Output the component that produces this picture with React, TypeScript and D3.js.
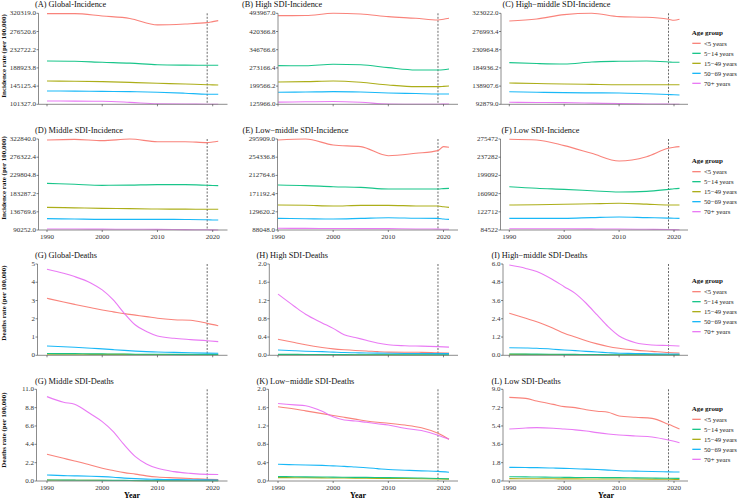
import * as d3 from 'd3'

document.body.style.margin = '0'

const AGE_GROUPS = ['<5 years', '5−14 years', '15−49 years', '50−69 years', '70+ years']
const AGE_COLORS = ['#F8766D', '#00BF7D', '#A3A500', '#00B0F6', '#E76BF3']
// ggplot draws the factor levels alphabetically: <5, 15-49, 5-14, 50-69, 70+
const DRAW_ORDER = [0, 2, 1, 3, 4]

const INC_YEARS = [1990, 1995, 2000, 2005, 2010, 2015, 2019, 2020, 2021]
const DEATH_YEARS = [1990, 1993, 1995, 1998, 2000, 2002, 2004, 2006, 2008, 2010, 2013, 2016, 2019, 2021]
const X_TICKS = [1990, 2000, 2010, 2020]
const REF_YEAR = 2019

// series order in every panel: <5, 5-14, 15-49, 50-69, 70+
const GLOBAL_INC = [
  [319500, 319600, 313800, 308000, 292500, 294600, 297800, 300200, 302600],
  [205500, 204800, 202400, 200500, 196500, 195500, 195200, 195200, 195200],
  [157400, 156800, 155800, 154000, 152000, 150000, 148500, 148000, 147800],
  [133400, 133000, 132500, 131800, 130500, 128000, 125500, 125400, 125400],
  [109400, 109000, 108600, 106000, 102500, 102000, 101600, 101500, 101400],
]
const HIGH_INC = [
  [484500, 484800, 494000, 491300, 480500, 473700, 467000, 470000, 473700],
  [282300, 282000, 287700, 286000, 274100, 264700, 264700, 265500, 268700],
  [216300, 217500, 220300, 215000, 204100, 197400, 197400, 198500, 200000],
  [174500, 175500, 177200, 175500, 171800, 169500, 167800, 167800, 167800],
  [134700, 136000, 137400, 134000, 127000, 126300, 126200, 126800, 127300],
]
const HIGH_MID_INC = [
  [303600, 308600, 319600, 323000, 314600, 312900, 307800, 305500, 307800],
  [198200, 196000, 194800, 199900, 201600, 202400, 200000, 199100, 199100],
  [146700, 145500, 144200, 143300, 142500, 142500, 142500, 142500, 142500],
  [124800, 123500, 122300, 121800, 121500, 119500, 117500, 117000, 116400],
  [97900, 97500, 97000, 95800, 94500, 93800, 93200, 93000, 92900],
]
const MID_INC = [
  [320300, 322000, 318600, 322800, 316000, 316000, 313500, 315000, 316900],
  [209500, 207000, 204400, 205000, 206100, 206100, 204500, 204000, 203600],
  [148200, 146800, 145600, 144800, 143900, 143500, 143200, 143100, 143100],
  [119200, 118300, 117500, 117500, 117500, 117200, 116500, 116000, 115800],
  [92800, 92700, 92500, 92200, 91900, 91300, 90700, 90500, 90300],
]
const LOW_MID_INC = [
  [293600, 295900, 282200, 278400, 257800, 263200, 269300, 278400, 276900],
  [190800, 189500, 187000, 185500, 181700, 181700, 181700, 182500, 183200],
  [145100, 144500, 142800, 144300, 144300, 143000, 142800, 141000, 139800],
  [114600, 113800, 113100, 114500, 116100, 115000, 114600, 113000, 112300],
  [91900, 91700, 91500, 91300, 91100, 90500, 90000, 89800, 89600],
]
const LOW_INC = [
  [275000, 273400, 261500, 245400, 229300, 238400, 255900, 258000, 259400],
  [175400, 172000, 169800, 167000, 164200, 165600, 169800, 171000, 171900],
  [137000, 137500, 138400, 139500, 140500, 138800, 137000, 137000, 137000],
  [109000, 109000, 109000, 110500, 111800, 110500, 109500, 109200, 109000],
  [87300, 87100, 87000, 86800, 86600, 86000, 85500, 85300, 85200],
]

const GLOBAL_DEATHS = [
  [3.12, 2.92, 2.79, 2.6, 2.48, 2.38, 2.28, 2.2, 2.12, 2.03, 1.95, 1.92, 1.75, 1.62],
  [0.1, 0.09, 0.09, 0.08, 0.08, 0.07, 0.07, 0.06, 0.06, 0.06, 0.05, 0.05, 0.05, 0.05],
  [0.06, 0.06, 0.06, 0.05, 0.05, 0.05, 0.05, 0.04, 0.04, 0.04, 0.04, 0.03, 0.03, 0.03],
  [0.51, 0.47, 0.44, 0.39, 0.35, 0.31, 0.27, 0.23, 0.2, 0.18, 0.16, 0.14, 0.12, 0.11],
  [4.71, 4.49, 4.31, 3.95, 3.58, 3.03, 2.3, 1.66, 1.3, 1.06, 0.93, 0.86, 0.8, 0.75],
]
const HIGH_DEATHS = [
  [0.35, 0.28, 0.23, 0.17, 0.14, 0.12, 0.105, 0.095, 0.08, 0.07, 0.068, 0.065, 0.055, 0.05],
  [0.02, 0.02, 0.018, 0.016, 0.015, 0.014, 0.013, 0.012, 0.012, 0.011, 0.01, 0.01, 0.01, 0.01],
  [0.015, 0.014, 0.013, 0.012, 0.011, 0.01, 0.01, 0.009, 0.009, 0.009, 0.008, 0.008, 0.008, 0.008],
  [0.117, 0.1, 0.09, 0.08, 0.07, 0.06, 0.055, 0.05, 0.047, 0.044, 0.04, 0.038, 0.037, 0.036],
  [1.34, 1.07, 0.9, 0.71, 0.59, 0.45, 0.39, 0.33, 0.27, 0.23, 0.21, 0.2, 0.19, 0.18],
]
const HIGH_MID_DEATHS = [
  [2.76, 2.43, 2.21, 1.78, 1.45, 1.2, 0.95, 0.75, 0.58, 0.46, 0.34, 0.26, 0.18, 0.15],
  [0.09, 0.08, 0.08, 0.07, 0.06, 0.06, 0.05, 0.05, 0.04, 0.04, 0.04, 0.03, 0.03, 0.03],
  [0.06, 0.06, 0.05, 0.05, 0.05, 0.04, 0.04, 0.04, 0.03, 0.03, 0.03, 0.03, 0.03, 0.03],
  [0.5, 0.48, 0.46, 0.4, 0.35, 0.31, 0.26, 0.22, 0.17, 0.13, 0.12, 0.1, 0.09, 0.09],
  [5.93, 5.71, 5.5, 4.95, 4.51, 4.07, 3.42, 2.65, 1.88, 1.27, 0.83, 0.68, 0.64, 0.61],
]
const MID_DEATHS = [
  [3.2, 2.72, 2.4, 1.9, 1.52, 1.25, 1.0, 0.82, 0.62, 0.48, 0.38, 0.3, 0.2, 0.16],
  [0.12, 0.11, 0.1, 0.09, 0.08, 0.07, 0.07, 0.06, 0.05, 0.05, 0.05, 0.04, 0.04, 0.04],
  [0.1, 0.09, 0.09, 0.08, 0.07, 0.06, 0.06, 0.05, 0.05, 0.05, 0.04, 0.04, 0.04, 0.04],
  [0.72, 0.65, 0.62, 0.57, 0.52, 0.45, 0.35, 0.28, 0.23, 0.2, 0.17, 0.15, 0.13, 0.12],
  [10.12, 9.45, 9.2, 8.0, 7.12, 5.92, 4.32, 2.92, 2.05, 1.52, 1.12, 0.92, 0.8, 0.78],
]
const LOW_MID_DEATHS = [
  [1.62, 1.57, 1.53, 1.47, 1.43, 1.39, 1.35, 1.31, 1.28, 1.26, 1.22, 1.16, 1.04, 0.91],
  [0.095, 0.093, 0.09, 0.087, 0.085, 0.082, 0.08, 0.078, 0.075, 0.073, 0.07, 0.065, 0.055, 0.05],
  [0.073, 0.072, 0.07, 0.068, 0.066, 0.064, 0.062, 0.06, 0.058, 0.056, 0.053, 0.05, 0.045, 0.04],
  [0.364, 0.355, 0.35, 0.34, 0.33, 0.32, 0.305, 0.29, 0.27, 0.25, 0.235, 0.22, 0.21, 0.19],
  [1.69, 1.66, 1.64, 1.52, 1.4, 1.33, 1.31, 1.28, 1.25, 1.22, 1.15, 1.1, 1.0, 0.91],
]
const LOW_DEATHS = [
  [8.21, 8.11, 7.85, 7.52, 7.3, 7.2, 7.0, 6.85, 6.74, 6.38, 6.25, 6.15, 5.56, 5.1],
  [0.42, 0.4, 0.39, 0.37, 0.36, 0.35, 0.34, 0.34, 0.33, 0.33, 0.31, 0.29, 0.27, 0.26],
  [0.23, 0.225, 0.22, 0.215, 0.21, 0.205, 0.2, 0.2, 0.2, 0.2, 0.19, 0.18, 0.17, 0.16],
  [1.34, 1.32, 1.31, 1.27, 1.24, 1.2, 1.17, 1.13, 1.07, 1.01, 0.97, 0.93, 0.9, 0.88],
  [5.1, 5.2, 5.24, 5.18, 5.1, 5.02, 4.9, 4.75, 4.62, 4.52, 4.42, 4.32, 4.02, 3.76],
]

// y tick labels, bottom to top
const TICKS_A = ['101327.0', '145125.4', '188923.8', '232722.2', '276520.6', '320319.0']
const TICKS_B = ['125966.0', '199566.2', '273166.4', '346766.6', '420366.8', '493967.0']
const TICKS_C = ['92879.0', '138907.6', '184936.2', '230964.8', '276993.4', '323022.0']
const TICKS_D = ['90252.0', '136769.6', '183287.2', '229804.8', '276322.4', '322840.0']
const TICKS_E = ['88048.0', '129620.2', '171192.4', '212764.6', '254336.8', '295909.0']
const TICKS_F = ['84522', '122712', '160902', '199092', '237282', '275472']
const TICKS_G = ['0', '1', '2', '3', '4', '5']
const TICKS_H = ['0.0', '0.4', '0.8', '1.2', '1.6', '2.0']
const TICKS_I = ['0.0', '1.2', '2.4', '3.6', '4.8', '6.0']
const TICKS_J = ['0.0', '2.2', '4.4', '6.6', '8.8', '11.0']
const TICKS_K = ['0.0', '0.4', '0.8', '1.2', '1.6', '2.0']
const TICKS_L = ['0.0', '1.8', '3.6', '5.4', '7.2', '9.0']

const PANELS = [
  { title: '(A) Global-Incidence', years: INC_YEARS, data: GLOBAL_INC, ticks: TICKS_A },
  { title: '(B) High SDI-Incidence', years: INC_YEARS, data: HIGH_INC, ticks: TICKS_B },
  { title: '(C) High−middle SDI-Incidence', years: INC_YEARS, data: HIGH_MID_INC, ticks: TICKS_C },
  { title: '(D) Middle SDI-Incidence', years: INC_YEARS, data: MID_INC, ticks: TICKS_D },
  { title: '(E) Low−middle SDI-Incidence', years: INC_YEARS, data: LOW_MID_INC, ticks: TICKS_E },
  { title: '(F) Low SDI-Incidence', years: INC_YEARS, data: LOW_INC, ticks: TICKS_F },
  { title: '(G) Global-Deaths', years: DEATH_YEARS, data: GLOBAL_DEATHS, ticks: TICKS_G },
  { title: '(H) High SDI-Deaths', years: DEATH_YEARS, data: HIGH_DEATHS, ticks: TICKS_H },
  { title: '(I) High−middle SDI-Deaths', years: DEATH_YEARS, data: HIGH_MID_DEATHS, ticks: TICKS_I },
  { title: '(G) Middle SDI-Deaths', years: DEATH_YEARS, data: MID_DEATHS, ticks: TICKS_J },
  { title: '(K) Low−middle SDI-Deaths', years: DEATH_YEARS, data: LOW_MID_DEATHS, ticks: TICKS_K },
  { title: '(L) Low SDI-Deaths', years: DEATH_YEARS, data: LOW_DEATHS, ticks: TICKS_L },
]

const COLS = [
  { x1990: 47, x2020: 212.7, right: 227.5, yearX: 132 },
  { x1990: 278, x2020: 443.5, right: 458, yearX: 358 },
  { x1990: 509.3, x2020: 674, right: 688, yearX: 606 },
]
const ROWS = [
  { top: 13.3, bottom: 104.3, titleY: 4.5, ylabY: 56, legendY: 43.3, xLabels: false },
  { top: 139, bottom: 230, titleY: 130, ylabY: 178, legendY: 171.7, xLabels: true },
  { top: 264, bottom: 355.3, titleY: 255, ylabY: 303, legendY: 291.7, xLabels: false },
  { top: 389.3, bottom: 481, titleY: 381.7, ylabY: 430, legendY: 419.3, xLabels: true },
]
const AXIS_X = [
  [38.5, 278, 501],
  [38.5, 277.5, 500.5],
  [37.5, 269.3, 503],
  [36.5, 268.5, 503],
]
const TITLE_X = [
  [35, 242, 502.5],
  [35, 242.5, 501.5],
  [35, 256.5, 491.5],
  [35, 256.5, 491.5],
]
const Y_TITLES = ['Incidence rate (per 100,000)', 'Incidence rate (per 100,000)', 'Deaths rate (per 100,000)', 'Deaths rate (per 100,000)']

const FONT = 'Liberation Serif, Tinos, Times New Roman, serif'
const AXIS_COLOR = '#8c8c8c'
const TICK_TEXT = '#333'

const Panel = ({ index }: { index: number }) => {
  const p = PANELS[index]
  const row = Math.floor(index / 3)
  const col = index % 3
  const c = COLS[col]
  const r = ROWS[row]
  const axisX = AXIS_X[row][col]

  const xScale = d3.scaleLinear().domain([1990, 2020]).range([c.x1990, c.x2020])
  const yMin = +p.ticks[0]
  const yMax = +p.ticks[p.ticks.length - 1]
  const yScale = d3.scaleLinear().domain([yMin, yMax]).range([r.bottom, r.top])

  const lineGen = d3
    .line<number>()
    .x((_, i) => xScale(p.years[i]))
    .y(d => yScale(d))
    .curve(d3.curveMonotoneX)

  return (
    <g fontFamily={FONT}>
      <text x={TITLE_X[row][col]} y={r.titleY} dominantBaseline="central" fontSize={8.3} fill="#111">
        {p.title}
      </text>
      {/* dashed reference year */}
      <line
        x1={xScale(REF_YEAR)}
        x2={xScale(REF_YEAR)}
        y1={r.top}
        y2={r.bottom}
        stroke="#444"
        strokeWidth={0.8}
        strokeDasharray="2,1.5"
      />
      {DRAW_ORDER.map(k => (
        <path
          key={k}
          d={lineGen(p.data[k]) ?? ''}
          fill="none"
          stroke={AGE_COLORS[k]}
          strokeWidth={1.1}
          strokeOpacity={0.9}
        />
      ))}
      <line x1={axisX} x2={axisX} y1={r.top} y2={r.bottom} stroke={AXIS_COLOR} strokeWidth={1} />
      <line x1={axisX} x2={c.right} y1={r.bottom} y2={r.bottom} stroke={AXIS_COLOR} strokeWidth={1} />
      {p.ticks.map(t => {
        const y = yScale(+t)
        return (
          <g key={t}>
            <line x1={axisX - 2} x2={axisX} y1={y} y2={y} stroke="#333" strokeWidth={0.6} />
            <text
              x={axisX - 2.5}
              y={y}
              textAnchor="end"
              dominantBaseline="central"
              fontSize={7}
              fill={TICK_TEXT}
            >
              {t}
            </text>
          </g>
        )
      })}
      {X_TICKS.map(t => (
        <g key={t}>
          <line
            x1={xScale(t)}
            x2={xScale(t)}
            y1={r.bottom}
            y2={r.bottom + 2}
            stroke="#333"
            strokeWidth={0.6}
          />
          {r.xLabels && (
            <text
              x={xScale(t)}
              y={r.bottom + 7}
              textAnchor="middle"
              dominantBaseline="central"
              fontSize={7}
              fill={TICK_TEXT}
            >
              {t}
            </text>
          )}
        </g>
      ))}
      {col === 0 && (
        <text
          transform={`translate(4.3,${r.ylabY}) rotate(-90)`}
          textAnchor="middle"
          dominantBaseline="central"
          fontSize={7}
          fontWeight="bold"
          fill="#111"
        >
          {Y_TITLES[row]}
        </text>
      )}
      {row === 3 && (
        <text x={c.yearX} y={495.7} textAnchor="middle" dominantBaseline="central" fontSize={8} fontWeight="bold">
          Year
        </text>
      )}
      {col === 2 && (
        <g>
          <text x={691.7} y={r.legendY - 10.8} dominantBaseline="central" fontSize={7} fontWeight="bold" fill="#111">
            Age group
          </text>
          {AGE_GROUPS.map((g, i) => (
            <g key={g}>
              <line
                x1={692.3}
                x2={700.7}
                y1={r.legendY + i * 10}
                y2={r.legendY + i * 10}
                stroke={AGE_COLORS[i]}
                strokeWidth={1.2}
              />
              <text x={704} y={r.legendY + i * 10} dominantBaseline="central" fontSize={6.7} fill="#222">
                {g}
              </text>
            </g>
          ))}
        </g>
      )}
    </g>
  )
}

const App = () => {
  return (
    <svg width={740} height={500} fontFamily={FONT} style={{ display: 'block', background: '#fff' }}>
      {PANELS.map((_, i) => (
        <Panel key={i} index={i} />
      ))}
    </svg>
  )
}

export default App
